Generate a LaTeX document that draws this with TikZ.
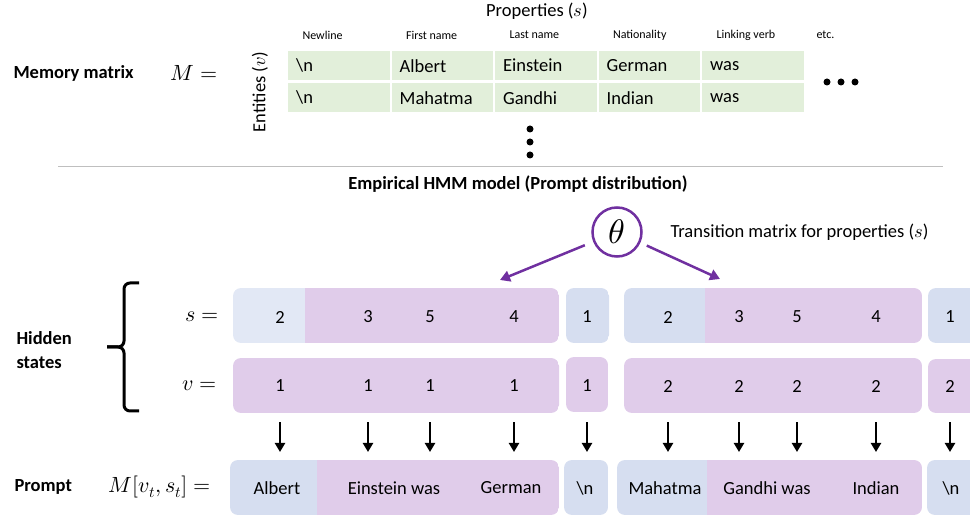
\documentclass[tikz,border=0pt]{standalone}
\usepackage{unicode-math}
\setmainfont{Carlito}
\setmathfont{Latin Modern Math}
\usetikzlibrary{arrows.meta}
\definecolor{cellgreen}{RGB}{226,239,218}
\definecolor{boxblue}{RGB}{214,222,240}
\definecolor{paleblue}{RGB}{226,232,245}
\definecolor{boxpurple}{RGB}{224,204,234}
\definecolor{thetapurple}{RGB}{112,48,160}
% x1, x split, x2, y top, y bottom, left colour, right colour
\newcommand{\statebox}[7]{%
  \begin{scope}
    \clip[rounded corners=8pt] (#1,#4) rectangle (#3,#5);
    \fill[#6] (#1,#4) rectangle (#2,#5);
    \fill[#7] (#2,#4) rectangle (#3,#5);
  \end{scope}}

\begin{document}
\begin{tikzpicture}[x=1pt, y=-1pt,
    big/.style={font=\fontsize{18.5}{22}\selectfont},
    mathlabel/.style={font=\fontsize{22}{26}\selectfont},
    heading/.style={font=\fontsize{18.5}{24}\selectfont\bfseries, align=left},
    small/.style={font=\fontsize{12}{14}\selectfont, anchor=west},
    cell/.style={big, fill=cellgreen, anchor=north west, minimum height=29pt,
        text width=85.5pt, inner xsep=8pt, inner ysep=0pt, align=left},
    num/.style={big, minimum height=18pt, inner sep=0pt},
    down/.style={-{Triangle[length=9pt,width=10pt]}, line width=2.3pt, shorten <=27pt},
    thetaarrow/.style={-{Triangle[length=10pt,width=11pt]}, line width=2.5pt, thetapurple}]
    \clip (0,0) rectangle (970,518);
    % memory matrix
    \node[big] (props) at (537,11) {Properties ($s$)};
    \node[heading, anchor=west] (memlabel) at (10,73) {Memory matrix};
    \node[mathlabel] (mlabel) at (194,73) {$M=$};
    \node[big, rotate=90] (entities) at (260,92) {Entities ($v$)};
    \foreach[count=\i] \h/\a/\b in {Newline/{\textbackslash n}/{\textbackslash n},
        First name/Albert/Mahatma, Last name/Einstein/Gandhi,
        Nationality/German/Indian, Linking verb/was/was}
    {%
        \node[small] (h\i) at ({288+(\i-1)*103.5+11},35) {\h};
        \node[cell] (ca\i) at ({288+(\i-1)*103.5},51) {\a};
        \node[cell] (cb\i) at ({288+(\i-1)*103.5},83) {\b};
    }
    \node[small] (etc) at (813,35) {etc.};
    \foreach \x in {827,841,855} \fill (\x,82) circle (3.5pt);
    \foreach \y in {129,142,155} \fill (530,\y) circle (3.5pt);
    \draw[black!25, line width=1pt] (58,167) -- (943,167);
    % HMM
    \node[heading] (hmm) at (518,184) {Empirical HMM model (Prompt distribution)};
    \node[circle, draw=thetapurple, line width=2.5pt, minimum size=49pt, inner sep=0pt]
        (theta) at (617,232) {\fontsize{34}{34}\selectfont$\theta$};
    \node[big, anchor=west] (translabel) at (667,232) {Transition matrix for properties ($s$)};
    \coordinate (tleft) at (500,280);
    \coordinate (tright) at (720,279);
    \draw[thetaarrow, shorten <=9pt] (theta) -- (tleft);
    \draw[thetaarrow, shorten <=7pt] (theta) -- (tright);
    \node[heading, anchor=west] (hidden) at (13,350) {Hidden\\states};
    \draw[line width=3pt, rounded corners=6pt] (139,283) -- (124,283) -- (124,347) -- (107,347);
    \draw[line width=3pt, rounded corners=6pt] (139,411) -- (124,411) -- (124,347) -- (107,347);
    \node[mathlabel] (slabel) at (202,317) {$s=$};
    \node[mathlabel] (vlabel) at (200,386) {$v=$};
    \node[heading, anchor=west] (promptlabel) at (11,487) {Prompt};
    \node[mathlabel] (mvs) at (160,487) {$M[v_t,s_t]=$};
    % state rows
    \statebox{233}{305}{559}{288}{343}{paleblue}{boxpurple}
    \statebox{566}{609}{609}{288}{343}{boxblue}{boxblue}
    \statebox{624}{705}{922}{288}{343}{boxblue}{boxpurple}
    \statebox{928}{990}{990}{288}{343}{boxblue}{boxblue}
    \statebox{233}{559}{559}{358}{413}{boxpurple}{boxpurple}
    \statebox{566}{608}{608}{357}{412}{boxpurple}{boxpurple}
    \statebox{624}{922}{922}{358}{413}{boxpurple}{boxpurple}
    \statebox{928}{990}{990}{359}{413}{boxpurple}{boxpurple}
    \statebox{230}{317}{559}{460}{515}{boxblue}{boxpurple}
    \statebox{564}{608}{608}{460}{515}{boxblue}{boxblue}
    \statebox{617}{707}{922}{460}{515}{boxblue}{boxpurple}
    \statebox{927}{990}{990}{460}{515}{boxblue}{boxblue}
    \foreach[count=\i] \x/\s/\v in {280/2/1, 368/3/1, 430/5/1, 514/4/1, 587/1/1,
        668/2/2, 739/3/2, 797/5/2, 876/4/2, 950/1/2}
    {%
        \node[num] (s\i) at (\x,317) {\s};
        \node[num] (v\i) at (\x,386) {\v};
        \coordinate (p\i) at (\x,452);
        \draw[down] (v\i) -- (p\i);
    }
    % prompt
    \node[big] (w1) at (277,488) {Albert};
    \node[big] (w2) at (394,488) {Einstein was};
    \node[big] (w3) at (511,488) {German};
    \node[big] (w4) at (585,488) {\textbackslash n};
    \node[big] (w5) at (665,488) {Mahatma};
    \node[big] (w6) at (767,488) {Gandhi was};
    \node[big] (w7) at (876,488) {Indian};
    \node[big] (w8) at (951,488) {\textbackslash n};
\end{tikzpicture}
\end{document}
